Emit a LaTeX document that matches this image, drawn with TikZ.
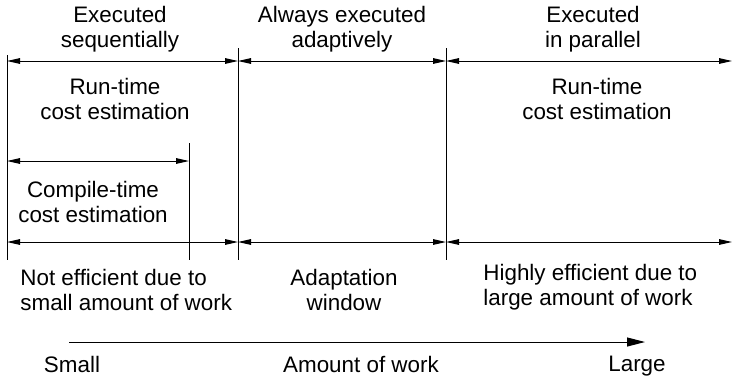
\documentclass[tikz,border=0pt]{standalone}
\usepackage{fontspec}
\setmainfont{Liberation Sans}
\usetikzlibrary{arrows.meta}

\begin{document}
\begin{tikzpicture}[x=0.5pt, y=-0.5pt,
    lbl/.style={font=\fontsize{11.2}{12.4}\selectfont, inner sep=0pt, align=center, anchor=north},
    lblleft/.style={lbl, align=left, anchor=north west},
    bound/.style={line width=0.5pt},
    span/.style={line width=0.5pt, {Triangle[length=6.5pt, width=2.8pt]}-{Triangle[length=6.5pt, width=2.8pt]}}]
  \useasboundingbox (0,0) rectangle (733,381);

  % Boundary lines
  \coordinate (b0top) at (7,55);    \coordinate (b0bot) at (7,260);
  \coordinate (b1top) at (238,48);  \coordinate (b1bot) at (238,260);
  \coordinate (b2top) at (446,48);  \coordinate (b2bot) at (446,260);
  \coordinate (bctop) at (189,143); \coordinate (bcbot) at (189,260);
  \coordinate (redge) at (732,61);
  \draw[bound] (b0top) -- (b0bot);
  \draw[bound] (b1top) -- (b1bot);
  \draw[bound] (b2top) -- (b2bot);
  \draw[bound] (bctop) -- (bcbot);

  % Top row of spans
  \draw[span] (b0top |- redge) -- (b1top |- redge);
  \draw[span] (b1top |- redge) -- (b2top |- redge);
  \draw[span] (b2top |- redge) -- (redge);

  % Compile-time span
  \coordinate (crow) at (7,161);
  \draw[span] (crow) -- (bctop |- crow);

  % Lower row of spans
  \coordinate (lrow) at (7,242);
  \coordinate (lredge) at (732,242);
  \draw[span] (lrow) -- (b1top |- lrow);
  \draw[span] (b1top |- lrow) -- (b2top |- lrow);
  \draw[span] (b2top |- lrow) -- (lredge);

  % Labels
  \node[lbl] (seq) at (120,6) {Executed\\sequentially};
  \node[lbl] (adapt) at (342,6) {Always executed\\adaptively};
  \node[lbl] (par) at (593,6) {Executed\\in parallel};
  \node[lbl] (rtleft) at (115,78) {Run-time\\cost estimation};
  \node[lbl] (rtright) at (597,78) {Run-time\\cost estimation};
  \node[lbl] (ct) at (93,181) {Compile-time\\cost estimation};
  \node[lblleft] (noteff) at (20,269) {Not efficient due to\\small amount of work};
  \node[lbl] (window) at (344,269) {Adaptation\\window};
  \node[lblleft] (higheff) at (483,264) {Highly efficient due to\\large amount of work};

  % Amount of work axis
  \coordinate (ax0) at (69,342);
  \coordinate (ax1) at (645,342);
  \draw[line width=0.5pt, -{Triangle[length=9pt, width=4.5pt]}] (ax0) -- (ax1);
  \node[lbl] (small) at (72,356) {Small};
  \node[lbl] (amount) at (361,356) {Amount of work};
  \node[lbl] (large) at (637,356) {Large};
\end{tikzpicture}
\end{document}
